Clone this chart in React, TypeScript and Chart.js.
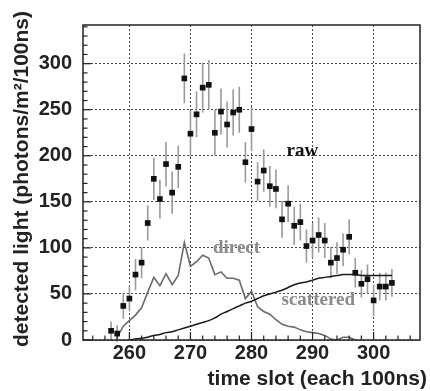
import React, { useEffect, useRef } from 'react';
import { Chart, registerables } from 'chart.js';
Chart.register(...registerables);

// raw measurement (squares with error bars)
const rawSlots = [257, 258, 259, 260, 261, 262, 263, 264, 265, 266, 267, 268, 269, 270, 271, 272, 273, 274, 275, 276, 277, 278, 279, 280, 281, 282, 283, 284, 285, 286, 287, 288, 289, 290, 291, 292, 293, 294, 295, 296, 297, 298, 299, 300, 301, 302, 303];
const rawValues = [10, 7, 37, 45, 71, 84, 127, 175, 153, 191, 160, 188, 284, 224, 245, 274, 277, 225, 248, 234, 247, 250, 193, 229, 172, 184, 167, 164, 131, 148, 124, 128, 102, 108, 114, 108, 84, 89, 98, 112, 73, 61, 66, 43, 58, 58, 62];
const rawErrors = [10, 9, 14, 14, 17, 17, 19, 23, 21, 24, 23, 23, 27, 25, 25, 27, 27, 25, 25, 25, 25, 25, 22, 24, 21, 23, 22, 21, 20, 20, 21, 20, 18, 19, 19, 19, 17, 17, 18, 19, 16, 15, 16, 17, 15, 15, 15];

// direct light component
const directSlots = [258, 259, 260, 261, 262, 263, 264, 265, 266, 267, 268, 269, 270, 271, 272, 273, 274, 275, 276, 277, 278, 279, 280, 281, 282, 283, 284, 285, 286, 287, 288, 289, 290, 291, 292, 293, 294, 295, 296, 297];
const directValues = [3, 15, 21, 27, 35, 52, 68, 59, 72, 60, 70, 106, 80, 85, 92, 89, 71, 74, 67, 67, 65, 45, 53, 36, 31, 28, 22, 17, 15, 14, 11, 9, 8, 7, 5, 1, 0, 3, 3, 0];

// scattered light component
const scatteredSlots = [260, 261, 262, 263, 264, 265, 266, 267, 268, 269, 270, 271, 272, 273, 274, 275, 276, 277, 278, 279, 280, 281, 282, 283, 284, 285, 286, 287, 288, 289, 290, 291, 292, 293, 294, 295, 296, 297, 298, 299, 300, 301, 302, 303];
const scatteredValues = [0, 1, 2, 3, 5, 6, 8, 9, 11, 13, 15, 17, 19, 21, 24, 28, 31, 34, 37, 40, 42, 45, 48, 50, 52, 54, 57, 60, 62, 63, 65, 67, 68, 69, 70, 71, 71, 71, 70, 70, 70, 70, 70, 70];

const xTitle = 'time slot (each 100ns)';
const yTitle = 'detected light (photons/m\u00b2/100ns)';
const labelRaw = 'raw';
const labelDirect = 'direct';
const labelScattered = 'scattered';

const SANS = '"Liberation Sans", Arial, Helvetica, sans-serif';
const SERIF = '"Liberation Serif", "Times New Roman", serif';

const decorPlugin = {
  id: 'decor',
  beforeDatasetsDraw(chart: any) {
    const { ctx, scales } = chart;
    const xs = scales.x, ys = scales.y;
    ctx.save();
    ctx.strokeStyle = '#9a9a9a';
    ctx.lineWidth = 1.6;
    rawSlots.forEach((s, i) => {
      const px = xs.getPixelForValue(s);
      ctx.beginPath();
      ctx.moveTo(px, ys.getPixelForValue(rawValues[i] - rawErrors[i]));
      ctx.lineTo(px, ys.getPixelForValue(rawValues[i] + rawErrors[i]));
      ctx.stroke();
    });
    ctx.restore();
  },
  afterDraw(chart: any) {
    const { ctx, chartArea: a, scales } = chart;
    const xs = scales.x, ys = scales.y;
    ctx.save();
    // frame
    ctx.strokeStyle = '#222';
    ctx.lineWidth = 1.5;
    ctx.strokeRect(a.left, a.top, a.right - a.left, a.bottom - a.top);
    // inward tick marks
    ctx.lineWidth = 1.2;
    for (let v = 254; v <= 306; v += 2) {
      const px = xs.getPixelForValue(v);
      const len = v % 10 === 0 ? 8 : 4.5;
      ctx.beginPath();
      ctx.moveTo(px, a.bottom);
      ctx.lineTo(px, a.bottom - len);
      ctx.stroke();
    }
    for (let v = 0; v <= 340; v += 10) {
      const py = ys.getPixelForValue(v);
      const len = v % 50 === 0 ? 8 : 4.5;
      ctx.beginPath();
      ctx.moveTo(a.left, py);
      ctx.lineTo(a.left + len, py);
      ctx.stroke();
    }
    // axis titles
    ctx.fillStyle = '#222';
    ctx.font = `bold 21px ${SANS}`;
    ctx.textAlign = 'right';
    ctx.textBaseline = 'middle';
    ctx.fillText(xTitle, 427, 379);
    ctx.save();
    ctx.translate(22, 179);
    ctx.rotate(-Math.PI / 2);
    ctx.textAlign = 'center';
    ctx.fillText(yTitle, 0, 0);
    ctx.restore();
    // curve labels
    ctx.textAlign = 'left';
    ctx.textBaseline = 'alphabetic';
    ctx.font = `bold 19px ${SERIF}`;
    ctx.fillStyle = '#111';
    ctx.fillText(labelRaw, 286.5, 156);
    ctx.fillStyle = '#8a8a8a';
    ctx.fillText(labelDirect, 213, 253);
    ctx.fillText(labelScattered, 281.5, 305);
    ctx.restore();
  },
};

export default function App() {
  const ref = useRef<HTMLCanvasElement>(null);
  useEffect(() => {
    document.body.style.margin = '0';
    const tickFont = { family: SANS, size: 20, weight: 'bold' as const };
    const chart = new Chart(ref.current!, {
      type: 'line',
      data: {
        datasets: [
          {
            label: 'raw',
            data: rawSlots.map((s, i) => ({ x: s, y: rawValues[i] })),
            showLine: false,
            pointStyle: 'rect',
            pointRadius: 4,
            pointBackgroundColor: '#111',
            pointBorderColor: '#111',
            pointBorderWidth: 0,
            order: 0,
          },
          {
            label: 'direct',
            data: directSlots.map((s, i) => ({ x: s, y: directValues[i] })),
            borderColor: '#6a6a6a',
            borderWidth: 1.6,
            pointRadius: 0,
            tension: 0,
            order: 2,
          },
          {
            label: 'scattered',
            data: scatteredSlots.map((s, i) => ({ x: s, y: scatteredValues[i] })),
            borderColor: '#1a1a1a',
            borderWidth: 1.5,
            pointRadius: 0,
            cubicInterpolationMode: 'monotone',
            order: 1,
          },
        ],
      },
      options: {
        responsive: false,
        animation: false,
        layout: { padding: { top: 25, right: 10, left: 0, bottom: 0 } },
        plugins: { legend: { display: false }, tooltip: { enabled: false } },
        scales: {
          x: {
            type: 'linear',
            min: 252.4,
            max: 307.6,
            ticks: { stepSize: 10, includeBounds: false, padding: 1, font: tickFont, color: '#222', maxRotation: 0, autoSkip: false },
            grid: { color: '#444', lineWidth: 1, drawTicks: false },
            border: { display: false, dash: [2, 2] },
            afterFit: (s: any) => { s.height = 51; },
          },
          y: {
            type: 'linear',
            min: 0,
            max: 342,
            ticks: { stepSize: 50, includeBounds: false, padding: 11, font: tickFont, color: '#222' },
            grid: { color: '#444', lineWidth: 1, drawTicks: false },
            border: { display: false, dash: [2, 2] },
            afterFit: (s: any) => { s.width = 83; },
          },
        },
      },
      plugins: [decorPlugin],
    });
    return () => chart.destroy();
  }, []);
  return (
    <div style={{ position: 'absolute', left: 0, top: 0, width: 430, height: 391, background: '#fff' }}>
      <canvas ref={ref} width={430} height={391} style={{ width: 430, height: 391, display: 'block' }} />
    </div>
  );
}
